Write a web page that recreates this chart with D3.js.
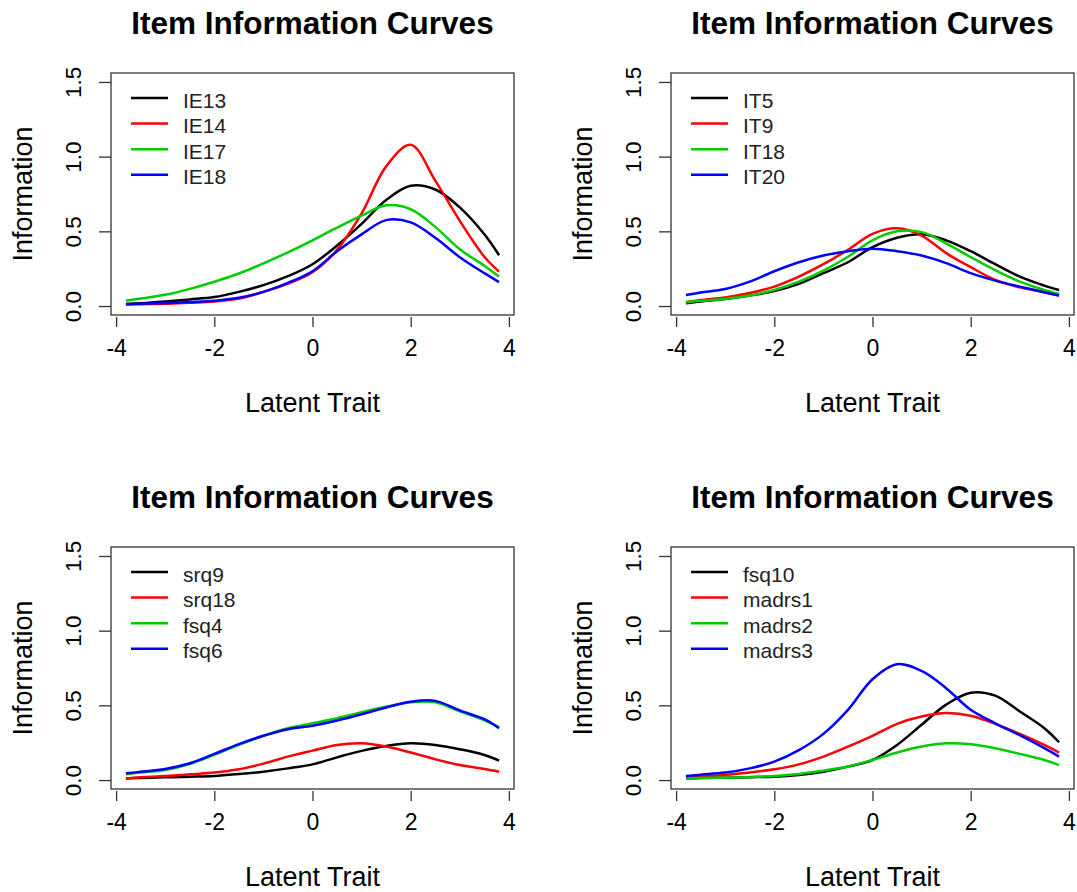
<!DOCTYPE html>
<html>
<head>
<meta charset="utf-8">
<script src="https://cdn.jsdelivr.net/npm/d3@7"></script>
<style>
  html, body { margin: 0; padding: 0; background: #ffffff; }
  svg { display: block; }
  text { font-family: "Liberation Sans", Arial, Helvetica, sans-serif; }
</style>
</head>
<body>
<svg id="chart" width="1077" height="892"></svg>
<script>
// Shared theta grid (Latent Trait)
const theta = [-3.8, -3.5, -3, -2.5, -2, -1.5, -1, -0.5, 0, 0.5, 1, 1.5, 2, 2.5, 3, 3.5, 3.8];

// Axis ticks
const xTicks = [-4, -2, 0, 2, 4];
const yTicks = [0, 0.5, 1.0, 1.5];

// Series colours (R palette 1..4)
const seriesColors = ["#000000", "#FF0000", "#00CD00", "#0000FF"];

// Panel 1
const p1Names = ["IE13", "IE14", "IE17", "IE18"];
const IE13 = [0.013, 0.018, 0.03, 0.044, 0.06, 0.095, 0.14, 0.20, 0.28, 0.405, 0.55, 0.71, 0.805, 0.78, 0.66, 0.48, 0.34];
const IE14 = [0.01, 0.012, 0.015, 0.022, 0.03, 0.05, 0.095, 0.15, 0.226, 0.376, 0.62, 0.935, 1.08, 0.84, 0.57, 0.33, 0.23];
const IE17 = [0.036, 0.05, 0.075, 0.115, 0.163, 0.218, 0.285, 0.36, 0.44, 0.525, 0.605, 0.674, 0.648, 0.53, 0.38, 0.27, 0.197];
const IE18 = [0.012, 0.015, 0.02, 0.027, 0.035, 0.055, 0.095, 0.155, 0.233, 0.367, 0.48, 0.575, 0.56, 0.457, 0.327, 0.22, 0.16];

// Panel 2
const p2Names = ["IT5", "IT9", "IT18", "IT20"];
const IT5  = [0.018, 0.03, 0.047, 0.07, 0.10, 0.148, 0.22, 0.293, 0.394, 0.457, 0.48, 0.44, 0.367, 0.28, 0.197, 0.137, 0.107];
const IT9  = [0.025, 0.04, 0.058, 0.087, 0.13, 0.197, 0.28, 0.376, 0.483, 0.52, 0.472, 0.354, 0.26, 0.175, 0.125, 0.092, 0.07];
const IT18 = [0.025, 0.035, 0.047, 0.07, 0.107, 0.163, 0.237, 0.33, 0.44, 0.50, 0.495, 0.42, 0.327, 0.24, 0.163, 0.107, 0.08];
const IT20 = [0.074, 0.09, 0.114, 0.163, 0.233, 0.293, 0.338, 0.367, 0.383, 0.367, 0.338, 0.287, 0.22, 0.17, 0.13, 0.092, 0.07];

// Panel 3
const p3Names = ["srq9", "srq18", "fsq4", "fsq6"];
const srq9  = [0.011, 0.014, 0.018, 0.022, 0.027, 0.04, 0.056, 0.078, 0.105, 0.152, 0.195, 0.228, 0.246, 0.235, 0.206, 0.168, 0.13];
const srq18 = [0.011, 0.018, 0.027, 0.038, 0.05, 0.072, 0.11, 0.157, 0.197, 0.235, 0.246, 0.224, 0.184, 0.139, 0.10, 0.074, 0.056];
const fsq4  = [0.038, 0.05, 0.067, 0.107, 0.168, 0.235, 0.296, 0.347, 0.38, 0.414, 0.454, 0.49, 0.52, 0.52, 0.46, 0.40, 0.354];
const fsq6  = [0.045, 0.055, 0.074, 0.112, 0.175, 0.24, 0.296, 0.34, 0.363, 0.398, 0.44, 0.486, 0.524, 0.53, 0.466, 0.407, 0.347];

// Panel 4
const p4Names = ["fsq10", "madrs1", "madrs2", "madrs3"];
const fsq10  = [0.011, 0.013, 0.016, 0.019, 0.022, 0.034, 0.056, 0.09, 0.134, 0.235, 0.37, 0.505, 0.585, 0.565, 0.459, 0.347, 0.253];
const madrs1 = [0.018, 0.025, 0.034, 0.05, 0.072, 0.105, 0.157, 0.224, 0.296, 0.376, 0.425, 0.448, 0.43, 0.376, 0.309, 0.235, 0.184];
const madrs2 = [0.011, 0.013, 0.016, 0.021, 0.027, 0.04, 0.063, 0.09, 0.134, 0.184, 0.224, 0.246, 0.24, 0.213, 0.175, 0.134, 0.10];
const madrs3 = [0.027, 0.036, 0.05, 0.078, 0.123, 0.20, 0.309, 0.47, 0.675, 0.775, 0.73, 0.615, 0.47, 0.38, 0.30, 0.213, 0.157];

const titleText = "Item Information Curves";
const xLabel = "Latent Trait";
const yLabel = "Information";

const panels = [
  { col: 0, row: 0, names: p1Names, series: [IE13, IE14, IE17, IE18] },
  { col: 1, row: 0, names: p2Names, series: [IT5, IT9, IT18, IT20] },
  { col: 0, row: 1, names: p3Names, series: [srq9, srq18, fsq4, fsq6] },
  { col: 1, row: 1, names: p4Names, series: [fsq10, madrs1, madrs2, madrs3] }
];

// Layout
const colStep = 560, rowStep = 474;
const box = { left: 111, right: 514, top: 73, bottom: 315 };
const xExt = (3.8 - (-3.8)) * 0.04;
const xScale = d3.scaleLinear().domain([-3.8 - xExt, 3.8 + xExt]).range([box.left, box.right]);
const yScale = d3.scaleLinear().domain([-0.06, 1.56]).range([box.bottom, box.top]);

const svg = d3.select("#chart");
const fmtY = d3.format(".1f");

panels.forEach(p => {
  const g = svg.append("g").attr("transform", `translate(${p.col * colStep},${p.row * rowStep})`);
  const cx = (box.left + box.right) / 2;

  // Title
  g.append("text").attr("x", cx).attr("y", 34).attr("text-anchor", "middle")
    .attr("font-size", 31.5).attr("font-weight", "bold").attr("fill", "#000")
    .text(titleText);

  // Curves
  const line = d3.line()
    .x((d, i) => xScale(theta[i]))
    .y(d => yScale(d))
    .curve(d3.curveCatmullRom.alpha(0.5));
  p.series.forEach((s, k) => {
    g.append("path").attr("d", line(s)).attr("fill", "none")
      .attr("stroke", seriesColors[k]).attr("stroke-width", 2.5)
      .attr("stroke-linejoin", "round");
  });

  // Box
  g.append("rect").attr("x", box.left).attr("y", box.top)
    .attr("width", box.right - box.left).attr("height", box.bottom - box.top)
    .attr("fill", "none").attr("stroke", "#333").attr("stroke-width", 1.3);

  // X axis (ticks below the box)
  const xAxis = d3.axisBottom(xScale).tickValues(xTicks).tickSize(10).tickPadding(13)
    .tickFormat(d3.format("d"));
  const xg = g.append("g").attr("transform", `translate(0,${box.bottom + 2})`).call(xAxis);
  xg.select(".domain").remove();
  xg.selectAll(".tick line").attr("stroke", "#333").attr("stroke-width", 1.3);
  xg.selectAll(".tick text").attr("font-size", 23).attr("fill", "#000")
    .attr("font-family", "'Liberation Sans', Arial, sans-serif").text(d => d < 0 ? "-" + Math.abs(d) : d);

  // Y axis
  const yAxis = d3.axisLeft(yScale).tickValues(yTicks).tickSize(12).tickFormat(fmtY);
  const yg = g.append("g").attr("transform", `translate(${box.left},0)`).call(yAxis);
  yg.select(".domain").remove();
  yg.selectAll(".tick line").attr("stroke", "#333").attr("stroke-width", 1.3);
  yg.selectAll(".tick text")
    .attr("font-size", 22.5).attr("fill", "#000")
    .attr("font-family", "'Liberation Sans', Arial, sans-serif")
    .attr("x", null).attr("dy", null)
    .attr("text-anchor", "middle")
    .attr("transform", `translate(${81 - box.left},0) rotate(-90)`);

  // Axis labels
  g.append("text").attr("x", cx).attr("y", 412).attr("text-anchor", "middle")
    .attr("font-size", 27).attr("fill", "#000").text(xLabel);
  g.append("text").attr("text-anchor", "middle")
    .attr("transform", `translate(31.5,${(box.top + box.bottom) / 2}) rotate(-90)`)
    .attr("font-size", 27).attr("fill", "#000").text(yLabel);

  // Legend
  const legY0 = 98, legStep = 25.6;
  p.names.forEach((nm, k) => {
    const ly = legY0 + k * legStep;
    g.append("line").attr("x1", 131).attr("x2", 168).attr("y1", ly).attr("y2", ly)
      .attr("stroke", seriesColors[k]).attr("stroke-width", 2.5);
    g.append("text").attr("x", 183).attr("y", ly + 9.5)
      .attr("font-size", 21).attr("fill", "#222").text(nm);
  });
});
</script>
</body>
</html>
